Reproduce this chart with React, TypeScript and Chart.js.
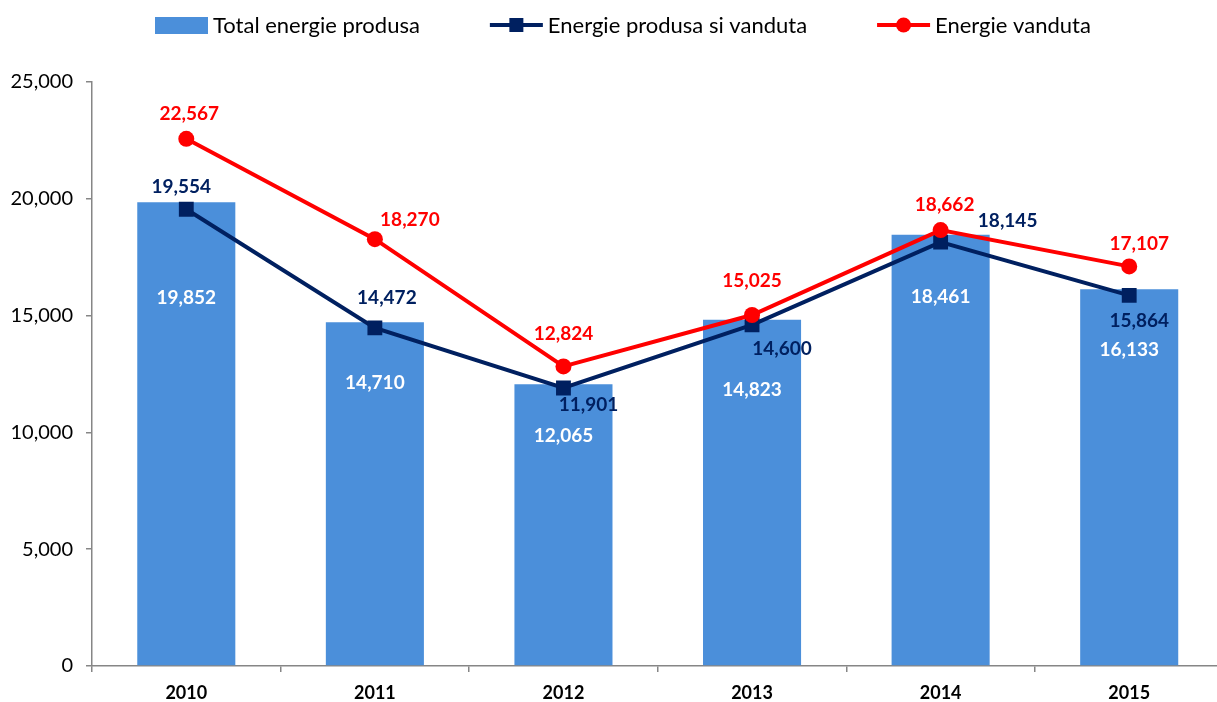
import React, { useEffect, useRef } from "react";
import { Chart, registerables } from "chart.js";

Chart.register(...registerables);

const categories = ["2010", "2011", "2012", "2013", "2014", "2015"];
const totalProduced = [19852, 14710, 12065, 14823, 18461, 16133];
const producedSold = [19554, 14472, 11901, 14600, 18145, 15864];
const sold = [22567, 18270, 12824, 15025, 18662, 17107];
const yTicks = [0, 5000, 10000, 15000, 20000, 25000];
const seriesNames = ["Total energie produsa", "Energie produsa si vanduta", "Energie vanduta"];

// label placement offsets in pixels (style, not data)
const barLabelOffsets = [[0, 96], [0, 61], [0, 52], [0, 70], [0, 62], [0, 61]];
const navyLabelOffsets = [[-5, -22], [12, -30], [25, 17], [30, 24], [67, -21], [10, 25]];
const redLabelOffsets = [[3, -25], [35, -19], [0, -33], [0, -34], [4, -25], [10, -23]];

const BAR = "#4B8FDA";
const NAVY = "#002060";
const RED = "#FF0000";
const AXIS = "#868686";
const FONT = "Lato, 'Noto Sans', sans-serif";

const fmt = (v: number) => v.toLocaleString("en-US");

const labelsPlugin = {
  id: "valueLabels",
  afterDatasetsDraw(chart: any) {
    const ctx = chart.ctx;
    ctx.save();
    ctx.font = `bold 19px ${FONT}`;
    ctx.textAlign = "center";
    ctx.textBaseline = "middle";
    const cfg = [
      { idx: 0, color: "#FFFFFF", off: barLabelOffsets },
      { idx: 1, color: NAVY, off: navyLabelOffsets },
      { idx: 2, color: RED, off: redLabelOffsets },
    ];
    cfg.forEach(({ idx, color, off }) => {
      const meta = chart.getDatasetMeta(idx);
      const data = chart.data.datasets[idx].data as number[];
      ctx.fillStyle = color;
      meta.data.forEach((el: any, i: number) => {
        ctx.fillText(fmt(data[i]), el.x + off[i][0], el.y + off[i][1]);
      });
    });
    ctx.restore();
  },
};

const legendPlugin = {
  id: "customLegend",
  afterDraw(chart: any) {
    const ctx = chart.ctx;
    ctx.save();
    ctx.font = `22px ${FONT}`;
    ctx.textBaseline = "middle";
    ctx.textAlign = "left";
    const y = 25;
    let x = 155;
    const symW = 53;
    seriesNames.forEach((name, i) => {
      if (i === 0) {
        ctx.fillStyle = BAR;
        ctx.fillRect(x, y - 8, symW, 17);
      } else {
        const color = i === 1 ? NAVY : RED;
        ctx.strokeStyle = color;
        ctx.lineWidth = 4;
        ctx.beginPath();
        ctx.moveTo(x, y);
        ctx.lineTo(x + symW, y);
        ctx.stroke();
        ctx.fillStyle = color;
        const cx = x + symW / 2;
        if (i === 1) {
          ctx.fillRect(cx - 7, y - 7, 14, 14);
        } else {
          ctx.beginPath();
          ctx.arc(cx, y, 7.5, 0, Math.PI * 2);
          ctx.fill();
        }
      }
      ctx.fillStyle = "#000";
      ctx.fillText(name, x + symW + 5, y + 1);
      x += symW + 5 + ctx.measureText(name).width + 70;
    });
    ctx.restore();
  },
};

export default function App() {
  const ref = useRef<HTMLCanvasElement | null>(null);
  useEffect(() => {
    if (!ref.current) return;
    const chart = new Chart(ref.current, {
      type: "bar",
      data: {
        labels: categories,
        datasets: [
          {
            type: "bar",
            label: seriesNames[0],
            data: totalProduced,
            backgroundColor: BAR,
            barPercentage: 0.52,
            categoryPercentage: 1,
            order: 3,
          },
          {
            type: "line",
            label: seriesNames[1],
            data: producedSold,
            borderColor: NAVY,
            backgroundColor: NAVY,
            borderWidth: 4,
            pointStyle: "rect",
            pointRadius: 10.5,
            pointBorderWidth: 0,
            pointBackgroundColor: NAVY,
            tension: 0,
            order: 2,
          },
          {
            type: "line",
            label: seriesNames[2],
            data: sold,
            borderColor: RED,
            backgroundColor: RED,
            borderWidth: 4,
            pointStyle: "circle",
            pointRadius: 8,
            pointBorderWidth: 0,
            pointBackgroundColor: RED,
            tension: 0,
            order: 1,
          },
        ] as any,
      },
      options: {
        responsive: false,
        animation: false,
        layout: { padding: { top: 82, left: 0, right: 0, bottom: 0 } },
        plugins: {
          legend: { display: false },
          tooltip: { enabled: false },
        },
        scales: {
          x: {
            offset: true,
            grid: {
              offset: true,
              drawOnChartArea: false,
              drawTicks: true,
              tickLength: 6,
              color: AXIS,
              lineWidth: 1.5,
            },
            border: { display: true, color: AXIS, width: 1.5 },
            ticks: {
              color: "#000",
              font: { family: FONT, size: 18, weight: "bold" },
              padding: 10,
            },
            afterFit(scale: any) {
              scale.height = 36;
            },
          },
          y: {
            min: 0,
            max: 25000,
            grid: {
              drawOnChartArea: false,
              drawTicks: true,
              tickLength: 6,
              color: AXIS,
              lineWidth: 1.5,
            },
            border: { display: true, color: AXIS, width: 1.5 },
            afterBuildTicks(scale: any) {
              scale.ticks = yTicks.map((v) => ({ value: v }));
            },
            ticks: {
              color: "#000",
              font: { family: FONT, size: 20 },
              padding: 13,
              callback: (v: any) => fmt(Number(v)),
            },
            afterFit(scale: any) {
              scale.width = 92;
            },
          },
        },
      } as any,
      plugins: [labelsPlugin, legendPlugin],
    });
    return () => chart.destroy();
  }, []);

  return (
    <div
      style={{
        position: "fixed",
        left: 0,
        top: 0,
        width: 1217,
        height: 702,
        overflow: "hidden",
        background: "#fff",
      }}
    >
      <canvas ref={ref} width={1234} height={702} style={{ display: "block" }} />
    </div>
  );
}
